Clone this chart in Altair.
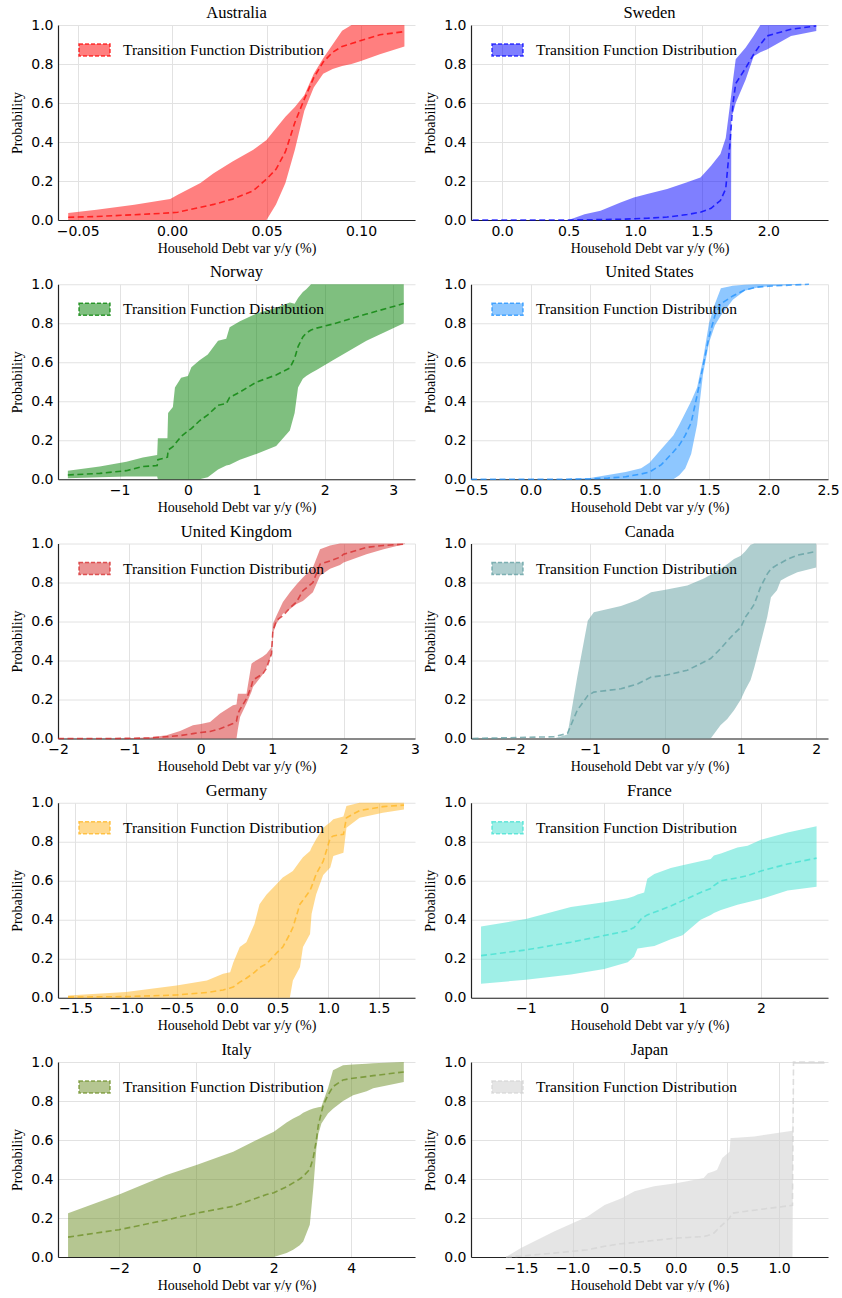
import altair as alt
import pandas as pd

# ---------------- data ----------------
AUS_X = [-0.055, -0.04, -0.02, -0.006, -0.001, 0.003, 0.015, 0.022, 0.032, 0.043, 0.05, 0.055, 0.06,
         0.065, 0.07, 0.075, 0.08, 0.085, 0.09, 0.095, 0.10, 0.11, 0.123]
AUS_HI = [0.036, 0.052, 0.078, 0.10, 0.108, 0.13, 0.19, 0.24, 0.30, 0.36, 0.41, 0.47, 0.53,
          0.58, 0.64, 0.75, 0.83, 0.90, 0.97, 1.0, 1.0, 1.0, 1.0]
AUS_MID = [0.014, 0.018, 0.027, 0.034, 0.037, 0.04, 0.065, 0.08, 0.107, 0.15, 0.21, 0.26, 0.35,
           0.50, 0.62, 0.73, 0.81, 0.86, 0.89, 0.905, 0.92, 0.95, 0.966]
AUS_LO = [0, 0, 0, 0, 0, 0, 0, 0, 0, 0, 0, 0.08, 0.19,
          0.36, 0.56, 0.68, 0.75, 0.775, 0.79, 0.80, 0.815, 0.85, 0.89]

SWE_X = [-0.22, 0.5, 0.62, 0.74, 0.89, 0.99, 1.09, 1.24, 1.39, 1.49, 1.57, 1.64, 1.68, 1.71, 1.72,
         1.722, 1.735, 1.755, 1.83, 1.89, 1.94, 1.99, 2.17, 2.36]
SWE_HI = [0, 0, 0.03, 0.048, 0.09, 0.116, 0.133, 0.159, 0.193, 0.218, 0.278, 0.338, 0.42, 0.58, 0.635,
          0.645, 0.72, 0.824, 0.885, 0.945, 1.0, 1.0, 1.0, 1.0]
SWE_MID = [0, 0, 0.001, 0.002, 0.004, 0.006, 0.009, 0.015, 0.028, 0.04, 0.06, 0.10, 0.16, 0.38, 0.47,
           0.49, 0.60, 0.70, 0.78, 0.85, 0.90, 0.944, 0.978, 0.995]
SWE_LO = [0, 0, 0, 0, 0, 0, 0, 0, 0, 0, 0, 0, 0, 0, 0,
          0.53, 0.55, 0.60, 0.72, 0.84, 0.86, 0.875, 0.944, 0.969]

NOR_X = [-1.756, -1.29, -0.90, -0.66, -0.45, -0.44, -0.30, -0.29, -0.22, -0.19, -0.10, 0.0, 0.05, 0.17,
         0.29, 0.44, 0.56, 0.61, 0.76, 1.0, 1.29, 1.49, 1.56, 1.61, 1.68, 1.73, 1.80, 1.88, 2.12, 2.61, 3.156]
NOR_HI = [0.043, 0.065, 0.09, 0.112, 0.124, 0.21, 0.21, 0.34, 0.37, 0.47, 0.52, 0.53, 0.575, 0.61,
          0.64, 0.71, 0.72, 0.78, 0.81, 0.85, 0.88, 0.906, 0.90, 0.93, 0.96, 0.975, 1.0, 1.0, 1.0, 1.0, 1.0]
NOR_MID = [0.022, 0.03, 0.044, 0.065, 0.07, 0.10, 0.113, 0.15, 0.167, 0.18, 0.22, 0.248, 0.26, 0.30,
           0.33, 0.379, 0.388, 0.42, 0.447, 0.498, 0.535, 0.57, 0.62, 0.68, 0.73, 0.75, 0.765, 0.775, 0.796, 0.847, 0.901]
NOR_LO = [0.005, 0.01, 0.014, 0.014, 0.014, 0.0, 0.0, 0.0, 0.0, 0.0, 0.0, 0.0, 0.0, 0.0,
          0.01, 0.05, 0.07, 0.075, 0.10, 0.13, 0.17, 0.25, 0.34, 0.47, 0.515, 0.53, 0.545, 0.56, 0.61, 0.71, 0.80]

USA_X = [-0.5, 0.3, 0.5, 0.65, 0.8, 0.93, 1.0, 1.1, 1.2, 1.25, 1.3, 1.35, 1.4, 1.45, 1.5, 1.55, 1.6,
         1.7, 1.8, 1.9, 2.0, 2.34]
USA_HI = [0, 0.001, 0.007, 0.022, 0.037, 0.056, 0.085, 0.155, 0.225, 0.28, 0.34, 0.40, 0.47, 0.615, 0.80,
          0.90, 0.98, 0.992, 0.997, 1.0, 1.0, 1.0]
USA_MID = [0, 0, 0.002, 0.006, 0.013, 0.027, 0.037, 0.075, 0.14, 0.175, 0.225, 0.29, 0.43, 0.58, 0.73,
           0.84, 0.90, 0.94, 0.97, 0.985, 0.99, 1.0]
USA_LO = [0, 0, 0, 0, 0, 0, 0, 0, 0, 0.02, 0.055, 0.13, 0.28, 0.54, 0.70, 0.79, 0.84, 0.92, 0.967,
          0.982, 0.99, 1.0]

GBR_X = [-2.0, -1.2, -0.72, -0.48, -0.29, -0.11, 0.0, 0.13, 0.27, 0.45, 0.5, 0.52, 0.55, 0.64, 0.71,
         0.73, 0.87, 0.92, 0.99, 1.01, 1.06, 1.15, 1.25, 1.34, 1.43, 1.57, 1.67, 1.81, 1.95, 2.0, 2.32, 2.56, 2.86]
GBR_HI = [0, 0, 0.005, 0.017, 0.039, 0.068, 0.075, 0.085, 0.128, 0.17, 0.175, 0.23, 0.23, 0.23, 0.383,
          0.39, 0.42, 0.434, 0.468, 0.588, 0.63, 0.70, 0.75, 0.79, 0.826, 0.877, 0.97, 0.99, 1.0, 1.0, 1.0, 1.0, 1.0]
GBR_MID = [0, 0, 0.003, 0.009, 0.015, 0.025, 0.031, 0.036, 0.05, 0.077, 0.09, 0.128, 0.15, 0.204, 0.27,
           0.30, 0.332, 0.36, 0.434, 0.553, 0.605, 0.63, 0.67, 0.70, 0.758, 0.80, 0.894, 0.91, 0.93, 0.945, 0.98, 0.99, 0.997]
GBR_LO = [0, 0, 0, 0, 0, 0, 0, 0, 0, 0, 0, 0.05, 0.11, 0.18, 0.24,
          0.264, 0.33, 0.366, 0.43, 0.54, 0.59, 0.64, 0.664, 0.69, 0.705, 0.75, 0.835, 0.87, 0.89, 0.903, 0.945, 0.97, 0.997]

CAN_X = [-2.56, -1.48, -1.30, -1.17, -1.03, -0.95, -0.59, -0.37, -0.19, 0.0, 0.29, 0.51, 0.60, 0.73,
         0.82, 0.91, 1.0, 1.06, 1.13, 1.18, 1.26, 1.35, 1.40, 1.48, 1.53, 1.62, 1.75, 2.0]
CAN_HI = [0, 0, 0.02, 0.315, 0.605, 0.647, 0.68, 0.71, 0.75, 0.763, 0.784, 0.82, 0.84, 0.87,
          0.894, 0.92, 0.937, 0.96, 0.993, 1.0, 1.0, 1.0, 1.0, 1.0, 1.0, 1.0, 1.0, 1.0]
CAN_MID = [0, 0.009, 0.026, 0.145, 0.22, 0.238, 0.255, 0.28, 0.315, 0.324, 0.35, 0.392, 0.41, 0.46,
           0.50, 0.537, 0.57, 0.622, 0.66, 0.69, 0.775, 0.843, 0.87, 0.89, 0.90, 0.92, 0.94, 0.959]
CAN_LO = [0, 0, 0, 0, 0, 0, 0, 0, 0, 0, 0, 0, 0, 0.068,
          0.10, 0.145, 0.20, 0.25, 0.30, 0.366, 0.486, 0.622, 0.724, 0.76, 0.81, 0.83, 0.852, 0.877]

DEU_X = [-1.574, -1.0, -0.5, -0.2, -0.04, 0.03, 0.06, 0.125, 0.19, 0.27, 0.32, 0.39, 0.49, 0.55, 0.62,
         0.65, 0.72, 0.75, 0.82, 0.835, 0.88, 0.95, 1.02, 1.05, 1.15, 1.18, 1.31, 1.54, 1.749]
DEU_HI = [0.012, 0.029, 0.063, 0.089, 0.123, 0.131, 0.18, 0.26, 0.285, 0.378, 0.48, 0.53, 0.583, 0.617, 0.64,
          0.65, 0.70, 0.72, 0.753, 0.77, 0.813, 0.872, 0.90, 0.915, 0.93, 0.983, 1.0, 1.0, 1.0]
DEU_MID = [0.003, 0.006, 0.014, 0.027, 0.04, 0.05, 0.055, 0.08, 0.10, 0.13, 0.155, 0.174, 0.23, 0.26, 0.327,
           0.36, 0.48, 0.50, 0.55, 0.57, 0.634, 0.70, 0.82, 0.83, 0.838, 0.923, 0.96, 0.98, 0.988]
DEU_LO = [0, 0, 0, 0, 0, 0, 0, 0, 0, 0, 0, 0, 0, 0, 0,
          0.089, 0.157, 0.26, 0.327, 0.43, 0.53, 0.63, 0.668, 0.727, 0.744, 0.872, 0.923, 0.949, 0.966]

FRA_X = [-1.572, -1.0, -0.425, 0.0, 0.30, 0.38, 0.425, 0.47, 0.51, 0.55, 0.64, 0.85, 1.0, 1.23, 1.36,
         1.40, 1.49, 1.70, 1.83, 2.0, 2.34, 2.71]
FRA_HI = [0.365, 0.404, 0.465, 0.49, 0.51, 0.52, 0.53, 0.535, 0.54, 0.61, 0.635, 0.665, 0.68, 0.70, 0.712,
          0.73, 0.74, 0.77, 0.78, 0.81, 0.848, 0.879]
FRA_MID = [0.216, 0.245, 0.285, 0.319, 0.344, 0.36, 0.38, 0.404, 0.415, 0.425, 0.438, 0.47, 0.498, 0.54, 0.56,
           0.575, 0.60, 0.615, 0.626, 0.65, 0.686, 0.716]
FRA_LO = [0.072, 0.092, 0.119, 0.148, 0.182, 0.21, 0.252, 0.255, 0.258, 0.26, 0.265, 0.30, 0.32, 0.40, 0.425,
          0.434, 0.45, 0.477, 0.49, 0.506, 0.55, 0.569]

ITA_X = [-3.32, -2.0, -0.78, 0.0, 0.95, 1.81, 2.0, 2.33, 2.5, 2.67, 2.76, 2.93, 3.02, 3.10, 3.15, 3.23,
         3.28, 3.40, 3.53, 3.79, 4.05, 4.40, 4.57, 5.36]
ITA_HI = [0.225, 0.32, 0.42, 0.472, 0.54, 0.625, 0.642, 0.69, 0.71, 0.727, 0.74, 0.755, 0.761, 0.765, 0.768, 0.77,
          0.80, 0.865, 0.958, 0.983, 0.987, 0.991, 0.994, 1.0]
ITA_MID = [0.102, 0.14, 0.19, 0.225, 0.26, 0.32, 0.33, 0.36, 0.38, 0.40, 0.414, 0.45, 0.51, 0.60, 0.676, 0.74,
           0.78, 0.83, 0.874, 0.908, 0.917, 0.925, 0.93, 0.949]
ITA_LO = [0, 0, 0, 0, 0, 0, 0, 0.02, 0.037, 0.06, 0.08, 0.165, 0.353, 0.557, 0.63, 0.685,
          0.70, 0.736, 0.76, 0.80, 0.83, 0.85, 0.865, 0.898]

JPN_X = [-1.645, -1.5, -1.18, -0.855, -0.69, -0.53, -0.40, -0.21, 0.0, 0.11, 0.27, 0.31, 0.37, 0.40, 0.45,
         0.52, 0.53, 0.55, 0.76, 1.13, 1.14, 1.44]
JPN_HI = [0, 0.046, 0.131, 0.208, 0.267, 0.30, 0.337, 0.363, 0.378, 0.388, 0.405, 0.43, 0.44, 0.448, 0.508,
          0.54, 0.61, 0.61, 0.618, 0.647, 1.0, 1.0]
JPN_MID = [0, 0.005, 0.02, 0.037, 0.055, 0.068, 0.074, 0.085, 0.097, 0.10, 0.105, 0.11, 0.123, 0.14, 0.165,
           0.20, 0.21, 0.225, 0.24, 0.265, 1.0, 1.0]
JPN_LO = [0, 0, 0, 0, 0, 0, 0, 0, 0, 0, 0, 0, 0, 0, 0,
          0, 0, 0, 0, 0, 0.99, 0.99]

COUNTRIES = ["Australia", "Sweden", "Norway", "United States", "United Kingdom",
             "Canada", "Germany", "France", "Italy", "Japan"]
X_DOMAINS = [[-0.0604, 0.1286], [-0.233, 2.448], [-1.90, 3.32], [-0.5, 2.5], [-2.0, 3.0],
             [-2.58, 2.157], [-1.673, 1.858], [-1.70, 2.856], [-3.58, 5.65], [-1.984, 1.474]]
X_TICKS = [[-0.05, 0.0, 0.05, 0.10], [0.0, 0.5, 1.0, 1.5, 2.0], [-1, 0, 1, 2, 3],
           [-0.5, 0.0, 0.5, 1.0, 1.5, 2.0, 2.5], [-2, -1, 0, 1, 2, 3], [-2, -1, 0, 1, 2],
           [-1.5, -1.0, -0.5, 0.0, 0.5, 1.0, 1.5], [-1, 0, 1, 2], [-2, 0, 2, 4],
           [-1.5, -1.0, -0.5, 0.0, 0.5, 1.0]]
X_FORMATS = [".2f", ".1f", "d", ".1f", "d", "d", ".1f", "d", "d", ".1f"]
COLORS = ["red", "blue", "green", "dodgerblue", "#d62728", "cadetblue", "#ffb41e",
          "turquoise", "olivedrab", "lightgrey"]
BAND_ALPHA = [0.5, 0.5, 0.5, 0.5, 0.5, 0.5, 0.5, 0.5, 0.5, 0.6]
Y_TICKS = [0.0, 0.2, 0.4, 0.6, 0.8, 1.0]

SERIES = [
    (AUS_X, AUS_LO, AUS_MID, AUS_HI), (SWE_X, SWE_LO, SWE_MID, SWE_HI),
    (NOR_X, NOR_LO, NOR_MID, NOR_HI), (USA_X, USA_LO, USA_MID, USA_HI),
    (GBR_X, GBR_LO, GBR_MID, GBR_HI), (CAN_X, CAN_LO, CAN_MID, CAN_HI),
    (DEU_X, DEU_LO, DEU_MID, DEU_HI), (FRA_X, FRA_LO, FRA_MID, FRA_HI),
    (ITA_X, ITA_LO, ITA_MID, ITA_HI), (JPN_X, JPN_LO, JPN_MID, JPN_HI),
]

LEGEND_TEXT = "Transition Function Distribution"
X_TITLE = "Household Debt var y/y (%)"
Y_TITLE = "Probability"
PW, PH = 357, 195


def panel(i):
    xs, lo, mid, hi = SERIES[i]
    df = pd.DataFrame({"x": xs, "lo": lo, "mid": mid, "hi": hi})
    color = COLORS[i]
    alpha = BAND_ALPHA[i]
    xscale = alt.Scale(domain=X_DOMAINS[i], nice=False, zero=False)
    xaxis = alt.Axis(values=X_TICKS[i], format=X_FORMATS[i], title=X_TITLE,
                     labelFlush=False, labelOverlap=False)
    yscale = alt.Scale(domain=[0, 1], nice=False, zero=False)
    yaxis = alt.Axis(values=Y_TICKS, format=".1f", title=Y_TITLE, labelOverlap=False)

    band = alt.Chart(df).mark_area(color=color, opacity=alpha).encode(
        x=alt.X("x:Q", scale=xscale, axis=xaxis),
        y=alt.Y("hi:Q", scale=yscale, axis=yaxis),
        y2="lo:Q",
    )
    line = alt.Chart(df).mark_line(color=color, strokeDash=[6, 3.5], strokeWidth=1.6, opacity=0.75).encode(
        x=alt.X("x:Q", scale=xscale, axis=xaxis),
        y=alt.Y("mid:Q", scale=yscale, axis=yaxis),
    )
    one = pd.DataFrame({"k": [0]})
    patch = alt.Chart(one).mark_rect(
        fill=color, fillOpacity=alpha, stroke=color, strokeOpacity=0.75,
        strokeDash=[4, 2], strokeWidth=1.5,
    ).encode(x=alt.value(21), x2=alt.value(52), y=alt.value(19), y2=alt.value(31))
    label = alt.Chart(one).mark_text(
        text=LEGEND_TEXT, align="left", baseline="middle",
        font="Liberation Serif", fontSize=15.5, color="black",
    ).encode(x=alt.value(65), y=alt.value(25))
    title = alt.Chart(one).mark_text(
        text=COUNTRIES[i], align="center", baseline="alphabetic",
        font="Liberation Serif", fontSize=16.5, color="black",
    ).encode(x=alt.value(PW / 2), y=alt.value(-7))

    return alt.layer(band, line, patch, label, title).properties(width=PW, height=PH)


panels = [panel(i) for i in range(len(COUNTRIES))]

chart = alt.concat(
    *panels, columns=2, spacing={"row": 64.25, "column": 56}, bounds="flush"
).properties(
    padding={"left": 10, "top": 5, "right": 0, "bottom": 0},
    background="white",
).configure_view(
    stroke=None
).configure_axis(
    labelFont="DejaVu Sans", labelFontSize=14, labelColor="black",
    titleFont="Liberation Serif", titleFontSize=14, titleFontWeight="normal", titleColor="black",
    domainColor="#222222", domainWidth=1.2, ticks=False,
    gridColor="#e2e2e2", gridWidth=1,
).configure_axisX(
    labelPadding=4, titlePadding=3,
).configure_axisY(
    labelPadding=5, titlePadding=6.5,
)

chart.save("out.html", embed_options={"renderer": "svg", "actions": False})
